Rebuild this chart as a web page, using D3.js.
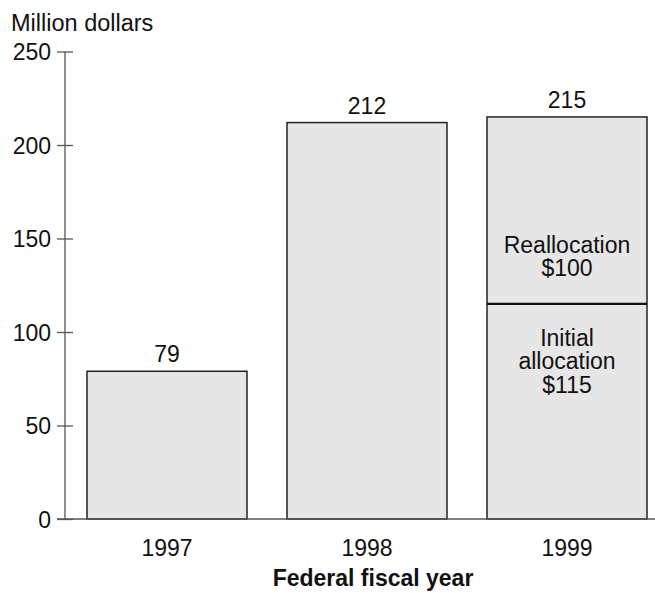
<!DOCTYPE html>
<html>
<head>
<meta charset="utf-8">
<script src="https://cdn.jsdelivr.net/npm/d3@7"></script>
<style>
  html, body { margin: 0; padding: 0; background: #fff; }
  svg text { font-family: "Liberation Sans", Arial, sans-serif; fill: #111; }
</style>
</head>
<body>
<svg id="chart" width="655" height="593"></svg>
<script>
// Appropriations by federal fiscal year (million dollars)
const years = ["1997", "1998", "1999"];
const totals = [79, 212, 215];
// 1999 is split into two parts
const split1999 = [
  { name: "Initial allocation", value: 115 },
  { name: "Reallocation", value: 100 }
];
const yTicks = [0, 50, 100, 150, 200, 250];

const FS = 23;
const svg = d3.select("#chart");
const axisX = 65, yBottom = 519, yTop = 51.5;

const y = d3.scaleLinear().domain([0, 250]).range([yBottom, yTop]);
const x = d3.scaleBand().domain(years).range([67, 667]).paddingInner(0.2).paddingOuter(0.1);

// Bars
svg.selectAll("rect.bar")
  .data(years.map((yr, i) => ({ yr, v: totals[i] })))
  .join("rect")
  .attr("class", "bar")
  .attr("x", d => x(d.yr))
  .attr("y", d => y(d.v))
  .attr("width", x.bandwidth())
  .attr("height", d => y(0) - y(d.v))
  .attr("fill", "#e6e6e6")
  .attr("stroke", "#222")
  .attr("stroke-width", 1.5);

// Value labels
svg.selectAll("text.val")
  .data(years.map((yr, i) => ({ yr, v: totals[i] })))
  .join("text")
  .attr("class", "val")
  .attr("x", d => x(d.yr) + x.bandwidth() / 2)
  .attr("y", d => y(d.v) - 9)
  .attr("text-anchor", "middle")
  .attr("font-size", FS)
  .text(d => d.v);

// Divider inside the 1999 bar
const b99 = x("1999");
const splitY = y(split1999[0].value);
svg.append("line")
  .attr("x1", b99).attr("x2", b99 + x.bandwidth())
  .attr("y1", splitY).attr("y2", splitY)
  .attr("stroke", "#111").attr("stroke-width", 2.2);

const cx99 = b99 + x.bandwidth() / 2;
const upper = svg.append("text").attr("text-anchor", "middle").attr("font-size", FS);
upper.append("tspan").attr("x", cx99).attr("y", splitY - 51).text(split1999[1].name);
upper.append("tspan").attr("x", cx99).attr("dy", 23.5).text("$" + split1999[1].value);

const lower = svg.append("text").attr("text-anchor", "middle").attr("font-size", FS);
lower.append("tspan").attr("x", cx99).attr("y", splitY + 42).text("Initial");
lower.append("tspan").attr("x", cx99).attr("dy", 23.5).text("allocation");
lower.append("tspan").attr("x", cx99).attr("dy", 23.5).text("$" + split1999[0].value);

// Y axis
const yAxis = d3.axisLeft(y).tickValues(yTicks).tickSize(8).tickPadding(5);
const gy = svg.append("g").attr("transform", `translate(${axisX},0)`).call(yAxis);
gy.select(".domain").remove();
gy.selectAll(".tick line").attr("x2", 8).attr("x1", -8).attr("stroke", "#555").attr("stroke-width", 1.3);
gy.selectAll(".tick text").attr("font-size", FS).attr("font-family", "Liberation Sans, Arial, sans-serif")
  .attr("fill", "#111").attr("dy", "0.36em").attr("x", -14);
svg.append("line")
  .attr("x1", axisX).attr("x2", axisX)
  .attr("y1", y(250)).attr("y2", y(0))
  .attr("stroke", "#555").attr("stroke-width", 1.3);

// Baseline
svg.append("line")
  .attr("x1", axisX - 8).attr("x2", 655)
  .attr("y1", y(0)).attr("y2", y(0))
  .attr("stroke", "#555").attr("stroke-width", 1.5);

// X category labels
svg.selectAll("text.cat")
  .data(years)
  .join("text")
  .attr("class", "cat")
  .attr("x", d => x(d) + x.bandwidth() / 2)
  .attr("y", 556)
  .attr("text-anchor", "middle")
  .attr("font-size", FS)
  .text(d => d);

// Axis titles
svg.append("text").attr("x", 11).attr("y", 31).attr("font-size", 23.5).text("Million dollars");
svg.append("text").attr("x", 373).attr("y", 586).attr("text-anchor", "middle")
  .attr("font-size", 23).attr("font-weight", "bold").text("Federal fiscal year");
</script>
</body>
</html>
